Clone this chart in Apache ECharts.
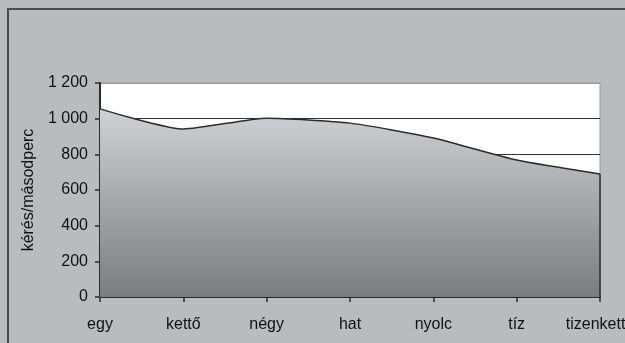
<!DOCTYPE html>
<html>
<head>
<meta charset="utf-8">
<script src="https://cdn.jsdelivr.net/npm/echarts@6/dist/echarts.min.js"></script>
<style>
  html, body { margin: 0; padding: 0; background: #b9bcbf; }
  #chart { width: 625px; height: 343px; }
</style>
</head>
<body>
<div id="chart"></div>
<script>
// Requests per second by number of threads
const categories = ['egy', 'kettő', 'négy', 'hat', 'nyolc', 'tíz', 'tizenkettő'];
const requestsPerSecond = [1055, 942, 1003, 975, 892, 768, 690];
const yTicks = [0, 200, 400, 600, 800, 1000, 1200];

const FONT = '"Liberation Sans", Arial, sans-serif';
const TEXT = '#111111';
const chart = echarts.init(document.getElementById('chart'), null, { renderer: 'canvas' });

chart.setOption({
  backgroundColor: '#b9bcbf',
  animation: false,
  graphic: [{
    type: 'rect',
    shape: { x: 8, y: 9, width: 700, height: 400 },
    style: { fill: 'none', stroke: '#4a4c4e', lineWidth: 2 },
    z: 100
  }],
  grid: {
    left: 100, right: 25, top: 83, bottom: 46,
    containLabel: false,
    outerBoundsMode: 'none',
    show: true, backgroundColor: '#ffffff', borderColor: '#9a9c9e', borderWidth: 1
  },
  xAxis: {
    type: 'category',
    data: categories,
    boundaryGap: false,
    axisLine: { lineStyle: { color: '#2a2c2e', width: 2 } },
    axisTick: { show: true, alignWithLabel: true, length: 5, lineStyle: { color: '#2a2c2e', width: 1.5 } },
    axisLabel: { interval: 0, margin: 20, fontSize: 16, color: TEXT, fontFamily: FONT, hideOverlap: false },
    splitLine: { show: false }
  },
  yAxis: {
    type: 'value',
    min: yTicks[0], max: yTicks[yTicks.length - 1], interval: yTicks[1] - yTicks[0],
    name: 'kérés/másodperc',
    nameLocation: 'middle',
    nameGap: 61,
    nameTextStyle: { fontSize: 16, color: TEXT, fontFamily: FONT },
    axisLine: { show: true, lineStyle: { color: '#2a2c2e', width: 2 } },
    axisTick: { show: true, length: 5, lineStyle: { color: '#2a2c2e', width: 1.5 } },
    axisLabel: {
      margin: 12, fontSize: 16, color: TEXT, fontFamily: FONT,
      formatter: v => String(v).replace(/\B(?=(\d{3})+(?!\d))/g, ' ')
    },
    splitLine: {
      show: true,
      lineStyle: { color: ['#333', '#333', '#333', '#333', '#333', '#333', '#9a9c9e'], width: 1 }
    }
  },
  series: [{
    type: 'line',
    data: requestsPerSecond,
    smooth: 0.2,
    symbol: 'none',
    lineStyle: { color: '#2a2c2e', width: 1.5 },
    areaStyle: {
      opacity: 1,
      color: new echarts.graphic.LinearGradient(0, 0, 0, 1, [
        { offset: 0, color: '#cfd2d4' },
        { offset: 1, color: '#7a7d7f' }
      ])
    },
    markLine: {
      silent: true,
      symbol: 'none',
      label: { show: false },
      lineStyle: { color: '#2a2c2e', width: 1.5, type: 'solid' },
      data: [[
        { coord: [categories[categories.length - 1], 0] },
        { coord: [categories[categories.length - 1], requestsPerSecond[requestsPerSecond.length - 1]] }
      ]]
    }
  }]
});
</script>
</body>
</html>
